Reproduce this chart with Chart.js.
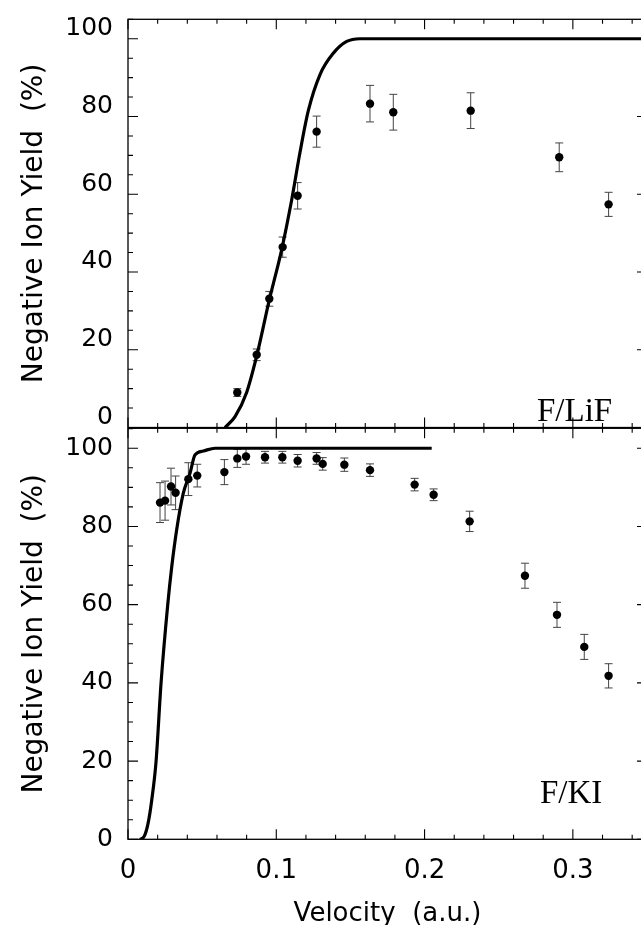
<!DOCTYPE html>
<html>
<head>
<meta charset="utf-8">
<script src="https://cdn.jsdelivr.net/npm/chart.js@4.4.1/dist/chart.umd.min.js"></script>
<style>
    html, body { margin: 0; padding: 0; background: #fff; }
    #wrap { position: relative; width: 641px; height: 925px; overflow: hidden; }
    #wrap canvas { position: absolute; left: 0; top: 0; }
</style>
</head>
<body>
<div id="wrap">
    <canvas id="lifChart" width="660" height="925"></canvas>
    <canvas id="kiChart" width="660" height="925"></canvas>
</div>
<script>
// F/LiF: measured negative ion yield
const lifVelocity = [0.0737, 0.0868, 0.0953, 0.1043, 0.1144, 0.1272, 0.1632, 0.1789, 0.2311, 0.2908, 0.3241];
const lifYield = [9.0, 18.7, 33.1, 46.4, 59.6, 76.1, 83.3, 81.1, 81.5, 69.5, 57.4];
const lifError = [1.0, 1.5, 1.9, 2.6, 3.4, 4.0, 4.7, 4.6, 4.6, 3.7, 3.1];

// F/LiF: calculated curve
const lifFitVelocity = [0.0654, 0.0722, 0.0800, 0.0868, 0.0953, 0.1036, 0.1104, 0.1160, 0.1216, 0.1295, 0.1385, 0.1475, 0.1564, 0.2000, 0.2500, 0.3000, 0.3500];
const lifFitYield = [0, 2.8, 9.0, 18.4, 32.8, 45.7, 58.6, 70.8, 81.5, 90.8, 96.3, 99.3, 100, 100, 100, 100, 100];

// F/KI: measured negative ion yield
const kiVelocity = [0.0216, 0.0250, 0.0290, 0.0321, 0.0407, 0.0467, 0.0650, 0.0737, 0.0796, 0.0924, 0.1041, 0.1144, 0.1272, 0.1313, 0.1459, 0.1632, 0.1933, 0.2061, 0.2304, 0.2677, 0.2893, 0.3077, 0.3241];
const kiYield = [86.1, 86.6, 90.2, 88.6, 92.1, 93.0, 93.9, 97.4, 97.9, 97.7, 97.7, 96.8, 97.4, 96.0, 95.8, 94.4, 90.7, 88.1, 81.3, 67.4, 57.4, 49.2, 41.8];
const kiError = [5.1, 5.0, 4.7, 4.3, 4.2, 2.9, 3.2, 2.3, 2.0, 1.5, 1.5, 1.6, 1.5, 1.6, 1.7, 1.6, 1.6, 1.5, 2.6, 3.2, 3.2, 3.2, 3.1];

// F/KI: calculated curve
const kiFitVelocity = [0.0081, 0.0110, 0.0135, 0.0160, 0.0189, 0.0223, 0.0268, 0.0295, 0.0328, 0.0373, 0.0418, 0.0452, 0.0508, 0.0587, 0.1200, 0.2048];
const kiFitYield = [0, 0.8, 4.0, 10.0, 19.8, 40.0, 60.0, 69.7, 79.1, 88.5, 93.6, 98.3, 99.3, 100, 100, 100];

const yTicks = [0, 20, 40, 60, 80, 100];
const xTicks = [0, 0.1, 0.2, 0.3];

const SANS = 'DejaVu Sans';
const SERIF = 'Liberation Serif';

Chart.defaults.color = '#000';
Chart.defaults.devicePixelRatio = 1;

const toPoints = (xs, ys) => xs.map((x, i) => ({ x, y: ys[i] }));

// inward ticks on all four sides plus the frame and the panel label
const frameTicks = {
    id: 'frameTicks',
    afterDraw(chart) {
        const { ctx, chartArea: a, scales: { x, y } } = chart;
        ctx.save();
        ctx.strokeStyle = '#000';
        ctx.lineWidth = 1.3;
        ctx.strokeRect(a.left, a.top, a.right - a.left, a.bottom - a.top);
        ctx.lineWidth = 1.1;
        ctx.beginPath();
        for (let i = 0; i <= 21; i++) {
            const py = y.getPixelForValue(i * 5);
            if (py < a.top) continue;
            const len = i % 4 === 0 ? 10 : 5;
            ctx.moveTo(a.left, py); ctx.lineTo(a.left + len, py);
            ctx.moveTo(a.right, py); ctx.lineTo(a.right - len, py);
        }
        for (let i = 0; i <= 17; i++) {
            const px = x.getPixelForValue(i * 0.02);
            const len = i % 5 === 0 ? 10 : 4.5;
            ctx.moveTo(px, a.bottom); ctx.lineTo(px, a.bottom - len);
            ctx.moveTo(px, a.top); ctx.lineTo(px, a.top + len);
        }
        ctx.stroke();

        const label = chart.options.plugins.frameTicks;
        ctx.font = `33px "${SERIF}"`;
        ctx.fillStyle = '#000';
        ctx.textBaseline = 'alphabetic';
        ctx.fillText(label.text, x.getPixelForValue(label.x), y.getPixelForValue(label.y));
        ctx.restore();
    },
};

const errorBars = {
    id: 'errorBars',
    beforeDatasetsDraw(chart) {
        const { ctx, scales: { x, y } } = chart;
        ctx.save();
        ctx.strokeStyle = '#444';
        ctx.lineWidth = 1;
        ctx.beginPath();
        chart.data.datasets.forEach((ds) => {
            if (!ds.errors) return;
            ds.data.forEach((p, i) => {
                const px = x.getPixelForValue(p.x);
                const lo = y.getPixelForValue(p.y - ds.errors[i]);
                const hi = y.getPixelForValue(p.y + ds.errors[i]);
                ctx.moveTo(px, lo); ctx.lineTo(px, hi);
                ctx.moveTo(px - 4, lo); ctx.lineTo(px + 4, lo);
                ctx.moveTo(px - 4, hi); ctx.lineTo(px + 4, hi);
            });
        });
        ctx.stroke();
        ctx.restore();
    },
};

function panel(canvasId, cfg) {
    return new Chart(document.getElementById(canvasId), {
        type: 'scatter',
        data: {
            datasets: [
                {
                    data: toPoints(cfg.fitX, cfg.fitY),
                    showLine: true,
                    borderColor: '#000',
                    borderWidth: 3.2,
                    pointRadius: 0,
                    cubicInterpolationMode: 'monotone',
                },
                {
                    data: toPoints(cfg.dataX, cfg.dataY),
                    errors: cfg.errors,
                    backgroundColor: '#000',
                    borderWidth: 0,
                    pointRadius: 4.2,
                },
            ],
        },
        options: {
            responsive: false,
            animation: false,
            layout: { padding: cfg.padding },
            plugins: {
                legend: { display: false },
                tooltip: { enabled: false },
                frameTicks: cfg.label,
            },
            scales: {
                x: {
                    type: 'linear',
                    min: 0,
                    max: 0.35,
                    display: cfg.showX,
                    afterBuildTicks: (s) => { s.ticks = xTicks.map((value) => ({ value })); },
                    afterFit: (s) => {
                        if (cfg.showX) s.height = 85.7;
                        s.paddingLeft = 0;
                        s.paddingRight = 0;
                    },
                    grid: { display: false, drawTicks: false },
                    border: { display: false },
                    ticks: {
                        padding: 16,
                        font: { family: SANS, size: 26 },
                        callback: (v) => String(v),
                    },
                    title: {
                        display: true,
                        text: 'Velocity  (a.u.)',
                        font: { family: SANS, size: 26, lineHeight: 0.8 },
                        padding: 0,
                    },
                },
                y: {
                    type: 'linear',
                    min: 0,
                    max: cfg.yMax,
                    afterBuildTicks: (s) => { s.ticks = yTicks.map((value) => ({ value })); },
                    afterFit: (s) => {
                        s.width = 128;
                        s.paddingTop = 0;
                        s.paddingBottom = 0;
                    },
                    grid: { display: false, drawTicks: false },
                    border: { display: false },
                    ticks: {
                        padding: 15,
                        labelOffset: cfg.labelOffset,
                        font: { family: SANS, size: 25 },
                    },
                    title: {
                        display: true,
                        text: 'Negative Ion Yield  (%)',
                        font: { family: SANS, size: 28 },
                        padding: { top: 18, bottom: 0 },
                    },
                },
            },
        },
        plugins: [errorBars, frameTicks],
    });
}

panel('lifChart', {
    fitX: lifFitVelocity, fitY: lifFitYield,
    dataX: lifVelocity, dataY: lifYield, errors: lifError,
    padding: { top: 19.3, bottom: 497.5, left: 0, right: 13 },
    yMax: 105,
    labelOffset: -10,
    showX: false,
    label: { text: 'F/LiF', x: 0.2758, y: 1.7 },
});

panel('kiChart', {
    fitX: kiFitVelocity, fitY: kiFitYield,
    dataX: kiVelocity, dataY: kiYield, errors: kiError,
    padding: { top: 428.3, bottom: 0, left: 0, right: 13 },
    yMax: 105.1,
    labelOffset: 0,
    showX: true,
    label: { text: 'F/KI', x: 0.2778, y: 9.3 },
});
</script>
</body>
</html>
